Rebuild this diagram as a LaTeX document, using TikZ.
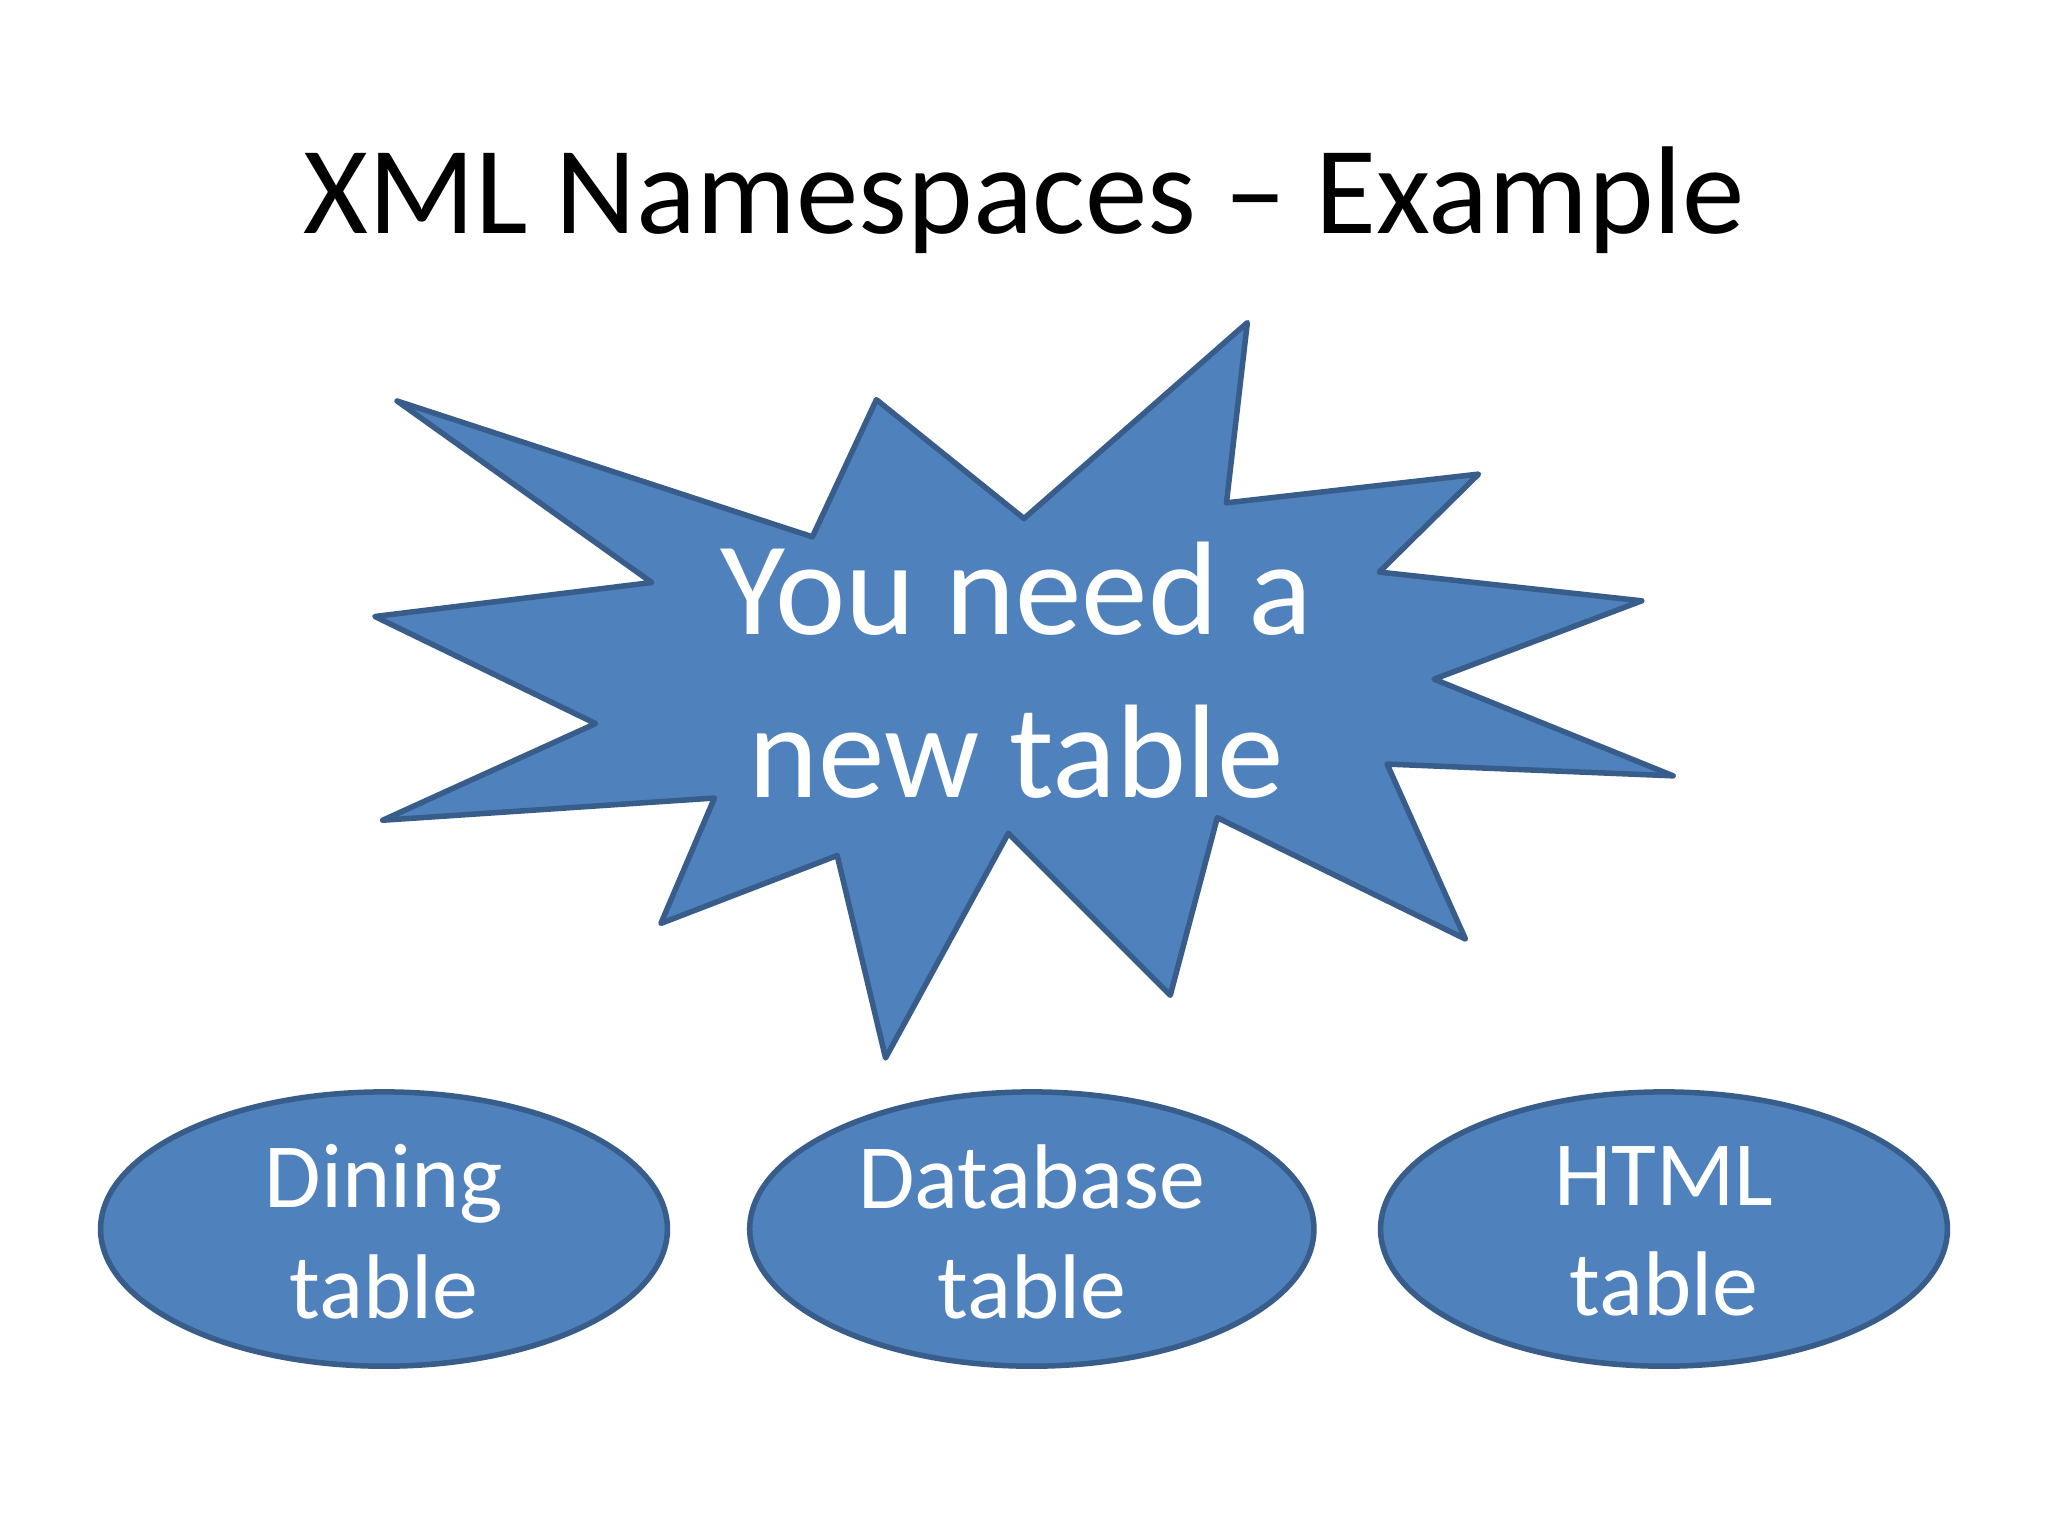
\documentclass[tikz,border=0pt]{standalone}
\usepackage{fontspec}
\setmainfont{Carlito}
\definecolor{fillb}{HTML}{4F81BD}
\definecolor{lineb}{HTML}{385D8A}
\begin{document}
\begin{tikzpicture}[x=0.01cm,y=-0.01cm,
  shapestyle/.style={fill=fillb,draw=lineb,line width=1.2pt,line join=round},
  wtext/.style={text=white,align=center}]
\useasboundingbox[fill=white] (0,0) rectangle (1568,1176);
\node[font=\fontsize{27.2}{32}\selectfont] (title) at (784,153) {XML Namespaces -- Example};
\draw[shapestyle] (304,307)--(622,411)--(671,306)--(784,397)--(955,247)--(939,385)--(1132,363)--(1056,438)--(1257,460)--(1098,520)--(1281,594)--(1062,585)--(1122,719)--(932,626)--(896,762)--(772,638)--(678,810)--(641,655)--(506,707)--(547,611)--(293,628)--(456,554)--(287,472)--(499,446)--cycle;
\node[wtext,font=\fontsize{29}{35.5}\selectfont] (burst) at (778,513) {You need a\\new table};
\draw[shapestyle] (294,941) ellipse [x radius=217,y radius=105];
\draw[shapestyle] (790,941) ellipse [x radius=216,y radius=105];
\draw[shapestyle] (1274,941) ellipse [x radius=217,y radius=105];
\node[wtext,font=\fontsize{20}{24}\selectfont] (dining) at (294,943) {Dining\\table};
\node[wtext,font=\fontsize{20}{24}\selectfont] (database) at (790,943) {Database\\table};
\node[wtext,font=\fontsize{20}{24}\selectfont] (html) at (1274,943) {HTML\\table};
\end{tikzpicture}
\end{document}
